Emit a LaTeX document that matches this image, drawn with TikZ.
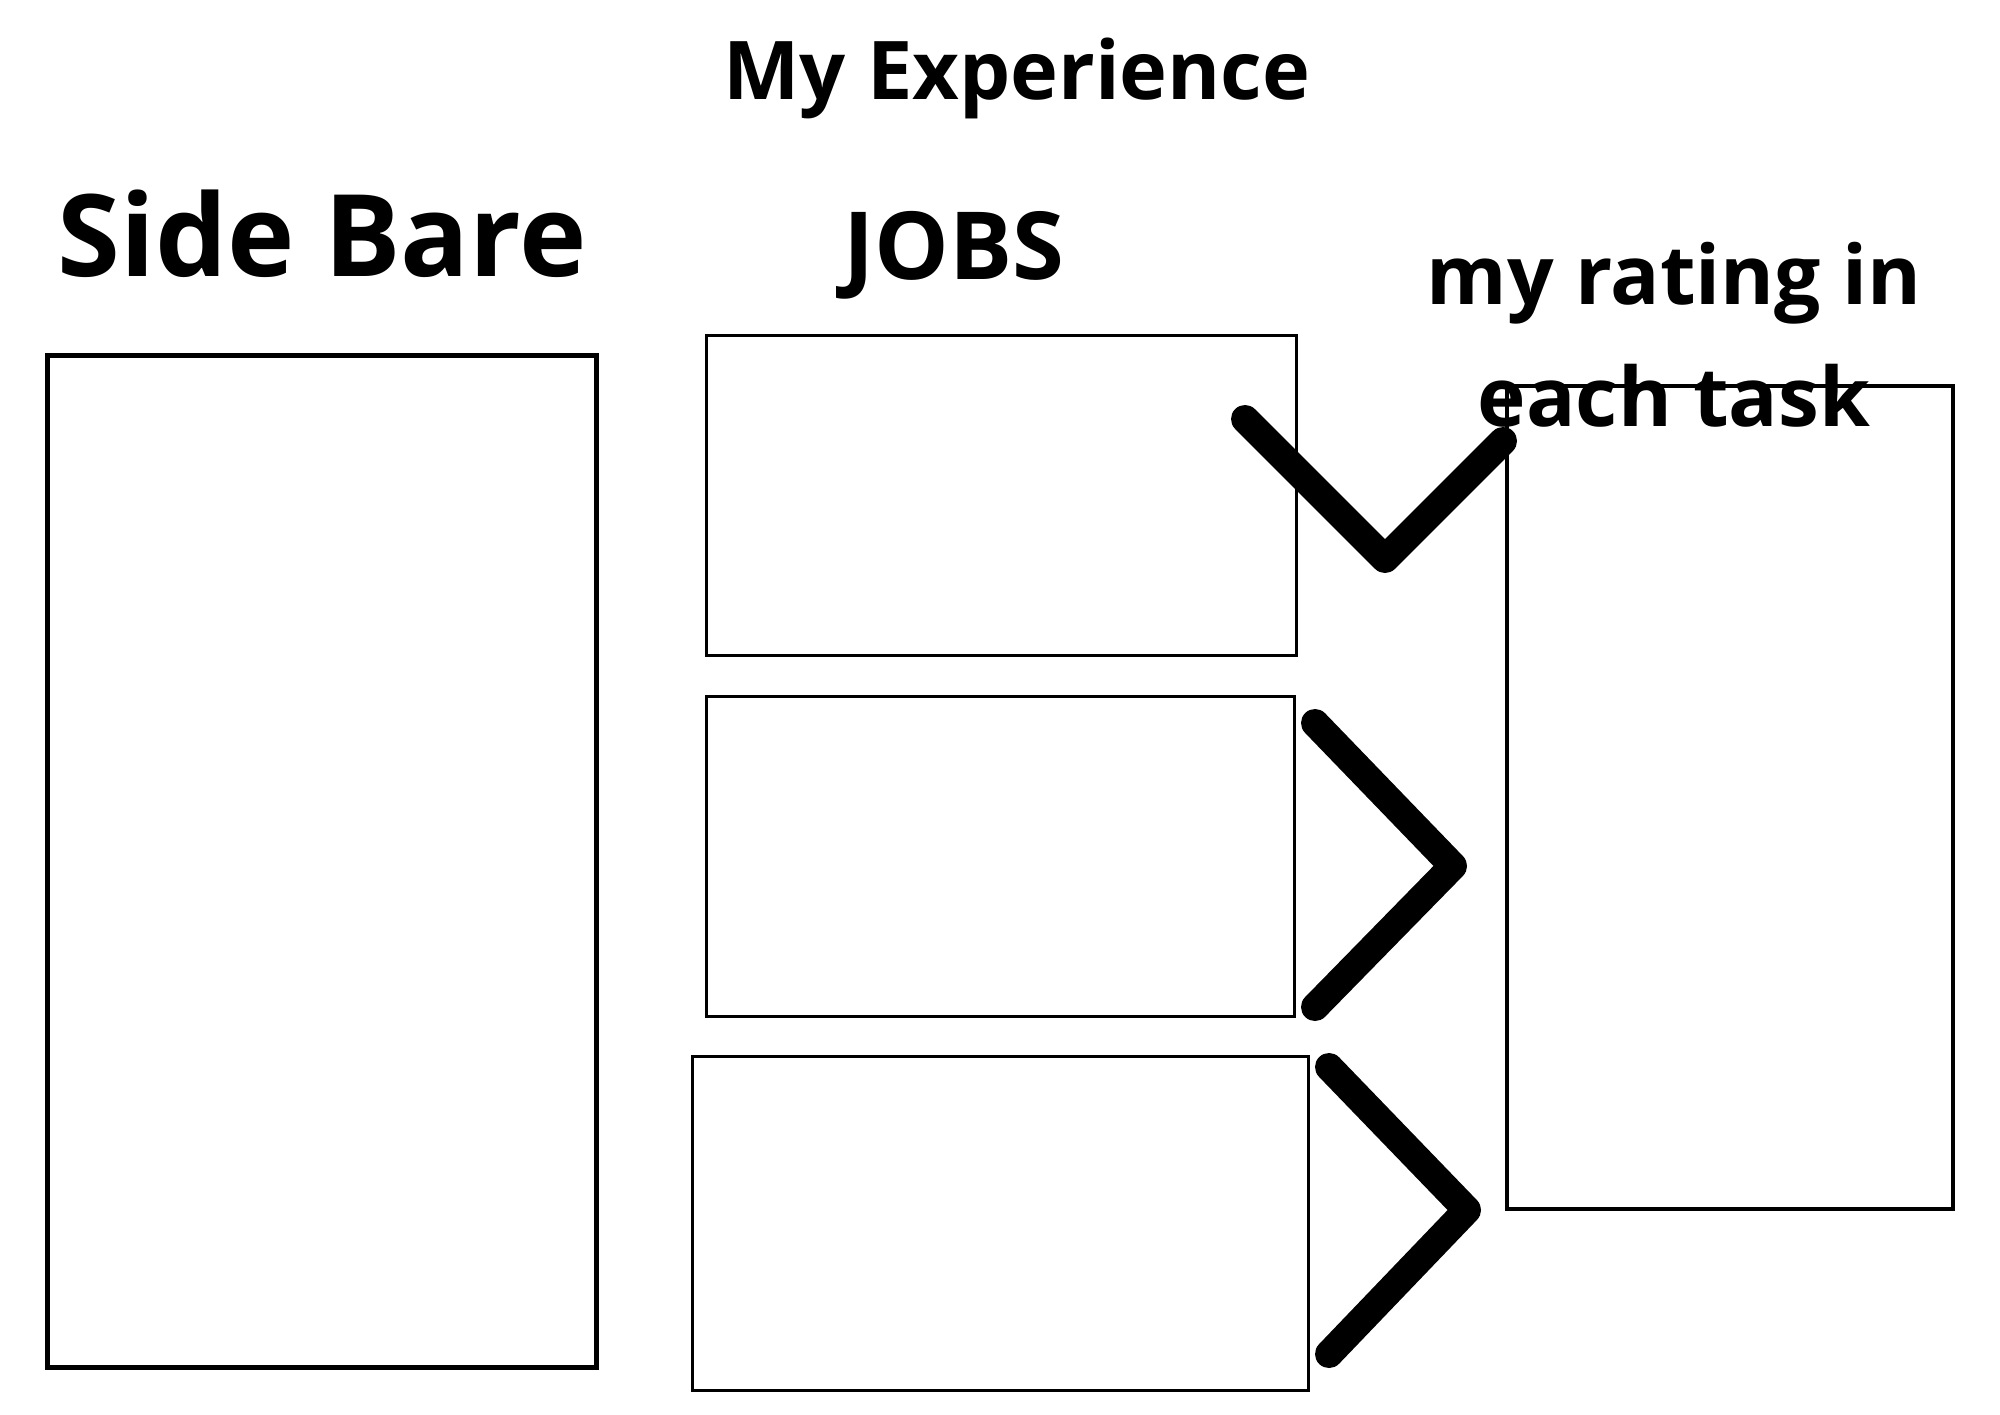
\documentclass[tikz,border=0pt]{standalone}
\usepackage{fontspec}
\setmainfont{Open Sans}
\begin{document}
\begin{tikzpicture}[x=0.5pt,y=-0.5pt,
  box/.style={draw=black,fill=none,inner sep=0pt,anchor=north west},
  title/.style={font=\bfseries,anchor=base,inner sep=0pt},
  tick/.style={line width=14pt,line cap=round,line join=round}]
\useasboundingbox[fill=white] (0,0) rectangle (2000,1414);
% headings
\node[title,font=\fontsize{40.5}{48}\bfseries\selectfont] (head) at (1017,99) {My Experience};
\node[title,font=\fontsize{57}{68}\bfseries\selectfont] (side) at (322,276) {Side Bare};
\node[title,font=\fontsize{47}{56}\bfseries\selectfont] (jobs) at (954,279) {JOBS};
% boxes
\node[box,line width=2.5pt,minimum width=274.5pt,minimum height=506pt] (sidebox) at (45,353) {};
\node[box,line width=1.5pt,minimum width=295pt,minimum height=160pt] (job1) at (705,334) {};
\node[box,line width=1.5pt,minimum width=294pt,minimum height=160pt] (job2) at (705,695) {};
\node[box,line width=1.5pt,minimum width=308pt,minimum height=167pt] (job3) at (691,1055) {};
\node[box,line width=2pt,minimum width=223pt,minimum height=411.5pt] (rate) at (1505,384) {};
% rating heading, set over the box edge
\node[title,font=\fontsize{41}{61}\bfseries\selectfont,align=center,anchor=base] (ratehead) at (1674,426) {my rating in\\each task};
% tick and chevrons
\coordinate (t1) at (1245,419);
\coordinate (t2) at (1385,559);
\coordinate (t3) at (1503,441);
\draw[tick] (t1) -- (t2) -- (t3);
\coordinate (c1) at (1315,723);
\coordinate (c2) at (1453,866);
\coordinate (c3) at (1315,1007);
\draw[tick] (c1) -- (c2) -- (c3);
\coordinate (d1) at (1329,1067);
\coordinate (d2) at (1467,1210);
\coordinate (d3) at (1329,1354);
\draw[tick] (d1) -- (d2) -- (d3);
\end{tikzpicture}
\end{document}
